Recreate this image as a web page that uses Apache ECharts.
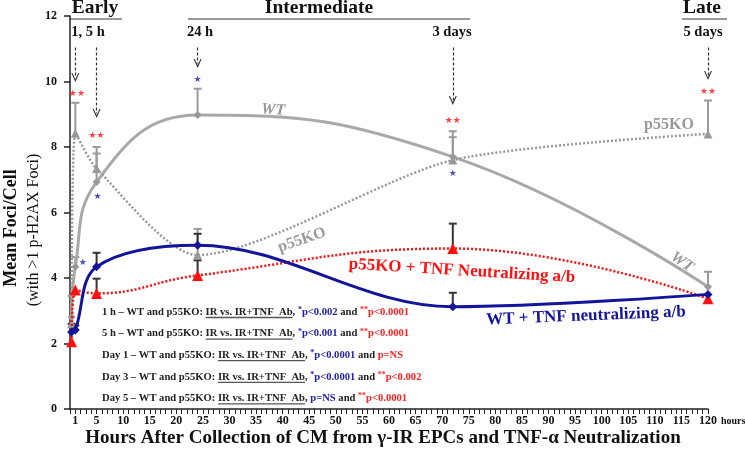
<!DOCTYPE html>
<html><head><meta charset="utf-8">
<script src="https://cdn.jsdelivr.net/npm/echarts@6/dist/echarts.min.js"></script>
<style>html,body{margin:0;padding:0;background:#fff}#c{width:745px;height:451px}</style>
</head><body><div id="c"></div>
<script>
// ---- data ----
const hours = [0.3, 1, 5, 24, 72, 120];
const wt = [2.8, 4.34, 6.93, 8.98, 7.7, 3.73];
const wtErr = [3.45, 4.64, 7.8, 9.78, 8.3, 4.19];
const p55 = [2.6, 8.42, 7.34, 4.7, 7.6, 8.4];
const p55Err = [null, 9.35, 8.0, 5.5, 8.48, 9.42];
const wtTnf = [2.35, 2.41, 4.34, 5.0, 3.12, 3.5];
const wtTnfErr = [2.6, 2.55, 4.77, 5.35, 3.55, null];
const p55Tnf = [2.05, 3.63, 3.53, 4.08, 4.9, 3.37];
const p55TnfErr = [null, null, 3.98, 4.54, 5.66, null];
const xTickLabels = [1,5,10,15,20,25,30,35,40,45,50,55,60,65,70,75,80,85,90,95,100,105,110,115,120];
const redStars = [[1.3, 9.64, '★★'], [5, 8.35, '★★'], [72, 8.79, '★★'], [120, 9.7, '★★']];
const blueStars = [[2.4, 4.47, '★'], [5.2, 6.47, '★'], [24, 10.06, '★'], [72, 7.19, '★']];
// arrows: [hour, fromY, toY]
const arrows = [[1, 11.04, 10.12], [5, 11.04, 9.02], [24, 11.04, 10.55], [72, 11.04, 9.42], [120, 11.04, 10.18]];
const phaseLabels = [['Early', 95], ['Intermediate', 319], ['Late', 702]];
const timeLabels = [['1, 5 h', 88], ['24 h', 200], ['3 days', 452], ['5 days', 703]];
const notes = [
  ['1 h – WT and p55KO: ', '*', 'p<0.002', '**', 'p<0.0001'],
  ['5 h – WT and p55KO: ', '*', 'p<0.001', '**', 'p<0.0001'],
  ['Day 1 – WT and p55KO: ', '*', 'p<0.0001', '', 'p=NS'],
  ['Day 3 – WT and p55KO: ', '*', 'p<0.0001', '**', 'p<0.002'],
  ['Day 5 – WT and p55KO: ', '', 'p=NS', '**', 'p<0.0001']
];

const SERIF = '"Liberation Serif", "Times New Roman", serif';
const GRAY = '#a9a9a9';
const BLUE = '#14149a';
const RED = '#ff1010';
const NOTE_FS = 10.6;

function pairs(ys){ return hours.map((h,i)=>[h, ys[i]]); }
function errData(ys, us){ return hours.map((h,i)=>[h, ys[i], us[i]]).filter(d=>d[2]!=null); }
function errItem(color){
  return function(params, api){
    const x = api.value(0), y = api.value(1), u = api.value(2);
    const p0 = api.coord([x,y]), p1 = api.coord([x,u]);
    return {type:'group', children:[
      {type:'line', shape:{x1:p0[0],y1:p0[1],x2:p1[0],y2:p1[1]}, style:{stroke:color, lineWidth:2}},
      {type:'line', shape:{x1:p1[0]-4,y1:p1[1],x2:p1[0]+4,y2:p1[1]}, style:{stroke:color, lineWidth:2}}
    ]};
  };
}

const chart = echarts.init(document.getElementById('c'));

const cv = document.createElement('canvas').getContext('2d');
cv.font = 'bold ' + NOTE_FS + 'px "Liberation Serif"';
const graphics = [];
const noteY0 = 312, noteDy = 21.6, noteX = 102;
notes.forEach((n,i)=>{
  const y = noteY0 + i*noteDy;
  graphics.push({type:'text', x:noteX, y:y, style:{
    text: '{b|' + n[0] + '}{b|IR vs. IR+TNF  Ab}{b|, }' + (n[1]?'{sb|'+n[1]+'}':'') + '{bl|' + n[2] + '}{b| and }' + (n[3]?'{sr|'+n[3]+'}':'') + '{rd|' + n[4] + '}',
    verticalAlign:'middle',
    rich:{
      b:{fontFamily:SERIF, fontWeight:'bold', fontSize:NOTE_FS, fill:'#222', lineHeight:12},
      bl:{fontFamily:SERIF, fontWeight:'bold', fontSize:NOTE_FS, fill:'#2020b0', lineHeight:12},
      rd:{fontFamily:SERIF, fontWeight:'bold', fontSize:NOTE_FS, fill:'#ff2020', lineHeight:12},
      sb:{fontFamily:SERIF, fontWeight:'bold', fontSize:8, fill:'#2020b0', lineHeight:12, verticalAlign:'top'},
      sr:{fontFamily:SERIF, fontWeight:'bold', fontSize:8, fill:'#ff2020', lineHeight:12, verticalAlign:'top'}
    }
  }, z:10});
  const x1 = noteX + cv.measureText(n[0]).width;
  const w = cv.measureText('IR vs. IR+TNF  Ab').width;
  graphics.push({type:'line', shape:{x1:x1, y1:y+5.5, x2:x1+w, y2:y+5.5}, style:{stroke:'#555', lineWidth:1.3}, z:10});
});
phaseLabels.forEach(p=>{
  graphics.push({type:'text', x:p[1], y:8, style:{text:p[0], fontFamily:SERIF, fontWeight:'bold', fontSize:19.5, fill:'#111', align:'center', verticalAlign:'middle'}});
});
graphics.push({type:'line', shape:{x1:70,y1:19,x2:122,y2:19}, style:{stroke:'#333', lineWidth:1.2}});
graphics.push({type:'line', shape:{x1:188,y1:19,x2:470,y2:19}, style:{stroke:'#333', lineWidth:1.2}});
graphics.push({type:'line', shape:{x1:682,y1:19,x2:727,y2:19}, style:{stroke:'#333', lineWidth:1.2}});
timeLabels.forEach(p=>{
  graphics.push({type:'text', x:p[1], y:32, style:{text:p[0], fontFamily:SERIF, fontWeight:'bold', fontSize:14.5, fill:'#111', align:'center', verticalAlign:'middle'}});
});
graphics.push({type:'text', x:383, y:438, style:{text:'Hours After Collection of CM from γ-IR EPCs and TNF-α Neutralization', fontFamily:SERIF, fontWeight:'bold', fontSize:19, fill:'#111', align:'center', verticalAlign:'middle'}});
graphics.push({type:'text', x:11, y:228, rotation:Math.PI/2, style:{text:'Mean Foci/Cell', fontFamily:SERIF, fontWeight:'bold', fontSize:18, fill:'#111', align:'center', verticalAlign:'middle'}});
graphics.push({type:'text', x:34, y:230, rotation:Math.PI/2, style:{text:'(with >1 p-H2AX Foci)', fontFamily:SERIF, fontSize:16, fill:'#111', align:'center', verticalAlign:'middle'}});
graphics.push({type:'text', x:721, y:421, style:{text:'hours', fontFamily:SERIF, fontWeight:'bold', fontSize:10, fill:'#111', align:'left', verticalAlign:'middle'}});
graphics.push({type:'text', x:273, y:110, rotation:-0.08, style:{text:'WT', fontFamily:SERIF, fontWeight:'bold', fontStyle:'italic', fontSize:16, fill:'#9a9a9a', align:'center', verticalAlign:'middle'}});
graphics.push({type:'text', x:302, y:240, rotation:0.33, style:{text:'p55KO', fontFamily:SERIF, fontWeight:'bold', fontSize:16, fill:'#9a9a9a', align:'center', verticalAlign:'middle'}});
graphics.push({type:'text', x:669, y:125, style:{text:'p55KO', fontFamily:SERIF, fontWeight:'bold', fontSize:16, fill:'#9a9a9a', align:'center', verticalAlign:'middle'}});
graphics.push({type:'text', x:682, y:262, rotation:-0.6, style:{text:'WT', fontFamily:SERIF, fontWeight:'bold', fontStyle:'italic', fontSize:16, fill:'#9a9a9a', align:'center', verticalAlign:'middle'}});
graphics.push({type:'text', x:462, y:271, rotation:-0.06, style:{text:'p55KO + TNF Neutralizing a/b', fontFamily:SERIF, fontWeight:'bold', fontSize:17, fill:RED, align:'center', verticalAlign:'middle'}});
graphics.push({type:'text', x:586, y:316, rotation:0.04, style:{text:'WT + TNF neutralizing a/b', fontFamily:SERIF, fontWeight:'bold', fontSize:17, fill:BLUE, align:'center', verticalAlign:'middle'}});

const axisFont = {fontFamily:SERIF, fontWeight:'bold', color:'#111'};
const starLabel = (color, size) => ({show:true, position:'inside', formatter:p=>p.value[2], color:color, fontSize:size, fontFamily:'DejaVu Sans'});

chart.setOption({
  animation:false,
  backgroundColor:'#fff',
  grid:{left:70, right:37, top:16, bottom:42},
  xAxis:{type:'value', min:0, max:120, interval:1,
    axisLine:{lineStyle:{color:'#222', width:1.5}},
    axisTick:{show:true, length:5, lineStyle:{color:'#222', width:1}},
    axisLabel:{...axisFont, fontSize:12, margin:6, customValues:xTickLabels},
    splitLine:{show:false}},
  yAxis:{type:'value', min:0, max:12, interval:2,
    axisLine:{show:true, lineStyle:{color:'#222', width:1.5}},
    axisTick:{show:true, length:6, lineStyle:{color:'#222', width:1.5}},
    axisLabel:{...axisFont, fontSize:12, margin:13},
    splitLine:{show:false}},
  graphic: graphics,
  series:[
    {type:'custom', renderItem:errItem('#9a9a9a'), data:errData(wt, wtErr), z:1},
    {type:'custom', renderItem:errItem('#9a9a9a'), data:errData(p55, p55Err), z:1},
    {type:'custom', renderItem:errItem('#333'), data:errData(wtTnf, wtTnfErr), z:1},
    {type:'custom', renderItem:errItem('#333'), data:errData(p55Tnf, p55TnfErr), z:1},
    {name:'WT', type:'line', data:pairs(wt), smooth:0.45, symbol:'diamond', symbolSize:8,
      lineStyle:{color:GRAY, width:3}, itemStyle:{color:'#999'}, z:3},
    {name:'p55KO', type:'line', data:pairs(p55), smooth:0.25, symbol:'triangle', symbolSize:9,
      lineStyle:{color:'#999', width:2.5, type:[2,2]}, itemStyle:{color:'#999'}, z:3},
    {name:'p55KO + TNF', type:'line', data:pairs(p55Tnf), smooth:0.45, symbol:'triangle', symbolSize:11,
      lineStyle:{color:RED, width:2.5, type:[2,2]}, itemStyle:{color:RED}, z:4},
    {name:'WT + TNF', type:'line', data:pairs(wtTnf), smooth:0.35, symbol:'diamond', symbolSize:9,
      lineStyle:{color:BLUE, width:3}, itemStyle:{color:BLUE}, z:5,
      markLine:{silent:true, symbol:['none','path://M0,10L5,0L10,10L8.6,10L5,3.2L1.4,10Z'], symbolSize:[8,9],
        lineStyle:{color:'#333', width:1.2, type:[3,2]}, label:{show:false},
        data: arrows.map(a=>[{coord:[a[0], a[1]]}, {coord:[a[0], a[2]]}])}},
    {type:'scatter', data:redStars, symbolSize:2, itemStyle:{color:'rgba(0,0,0,0)'}, label:starLabel(RED, 9), z:6},
    {type:'scatter', data:blueStars, symbolSize:2, itemStyle:{color:'rgba(0,0,0,0)'}, label:starLabel('#2020b0', 9), z:6}
  ]
});
</script></body></html>
